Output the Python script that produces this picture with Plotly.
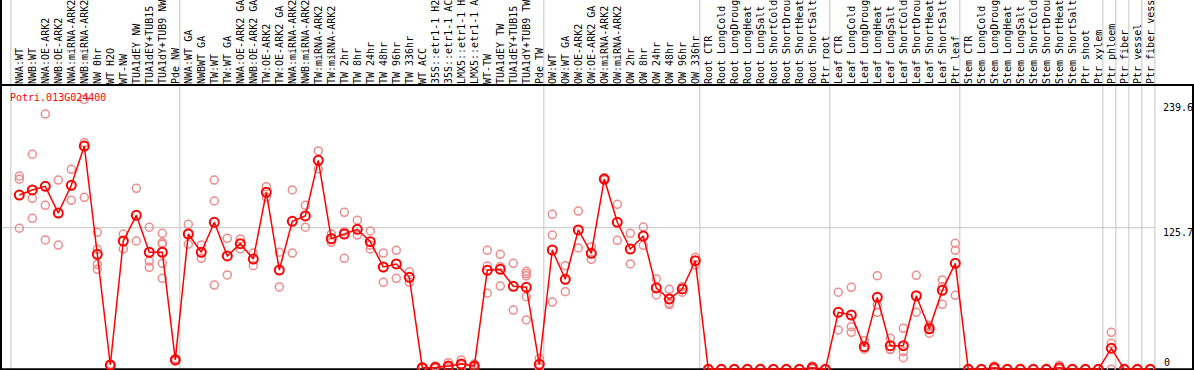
import plotly.graph_objects as go

categories = [
    "NWA:WT", "NWB:WT", "NWA:OE-ARK2", "NWB:OE-ARK2", "NWA:miRNA-ARK2", "NWB:miRNA-ARK2",
    "NW 0hr", "WT H2O", "WT-NW", "TUA1dEY NW", "TUA1dEY+TUB15 NW", "TUA1dY+TUB9 NW", "Pde NW",
    "NWA:WT GA", "NWBWT GA", "TW:WT", "TW:WT GA", "NWA:OE-ARK2 GA", "NWB:OE-ARK2 GA",
    "TW:OE-ARK2", "TW:OE-ARK2 GA", "NWA:miRNA-ARK2", "NWB:miRNA-ARK2", "TW:miRNA-ARK2",
    "TW:miRNA-ARK2 GA", "TW 2hr", "TW 8hr", "TW 24hr", "TW 48hr", "TW 96hr", "TW 336hr",
    "WT ACC", "35S::etr1-1 H2O", "35S::etr1-1 ACC", "LMX5::etr1-1 H2O", "LMX5::etr1-1 ACC",
    "WT-TW", "TUA1dEY TW", "TUA1dEY+TUB15 TW", "TUA1dY+TUB9 TW", "Pde TW",
    "OW:WT", "OW:WT GA", "OW:OE-ARK2", "OW:OE-ARK2 GA", "OW:miRNA-ARK2", "OW:miRNA-ARK2 GA",
    "OW 2hr", "OW 8hr", "OW 24hr", "OW 48hr", "OW 96hr", "OW 336hr",
    "Root CTR", "Root LongCold", "Root LongDrought", "Root LongHeat", "Root LongSalt",
    "Root ShortCold", "Root ShortDrought", "Root ShortHeat", "Root ShortSalt", "Ptr root",
    "Leaf CTR", "Leaf LongCold", "Leaf LongDrought", "Leaf LongHeat", "Leaf LongSalt",
    "Leaf ShortCold", "Leaf ShortDrought", "Leaf ShortHeat", "Leaf ShortSalt", "Ptr leaf",
    "Stem CTR", "Stem LongCold", "Stem LongDrought", "Stem LongHeat", "Stem LongSalt",
    "Stem ShortCold", "Stem ShortDrought", "Stem ShortHeat", "Stem ShortSalt", "Ptr shoot",
    "Ptr xylem", "Ptr phloem", "Ptr fiber", "Ptr vessel", "Ptr fiber vessel",
]

mean_values = [
    154.7, 159.2, 162.4, 138.7, 163.3, 198.2, 102.1, 3.8, 113.9, 136.7, 103.9, 103.9, 8.3,
    120.1, 103.9, 130.5, 100.6, 111.5, 97.9, 157.1, 88.1, 131.4, 136.1, 185.5, 115.9,
    120.1, 124.3, 113.3, 90.8, 93.5, 81.7,
    1.4, 1.7, 2.9, 4.7, 2.9, 87.9, 88.8, 73.7, 72.8, 4.4,
    105.9, 79.9, 123.7, 103.0, 168.9, 130.5, 106.8, 118.3, 72.2, 62.4, 71.3, 96.4,
    0, 0, 0, 0, 0, 0, 0, 0, 1.4, 0,
    50.6, 48.2, 20.1, 63.9, 21.0, 21.0, 65.3, 36.0, 70.1, 94.1,
    0, 0, 1.4, 0, 0, 0, 0, 1.4, 0, 0,
    0, 18.6, 0, 0, 0,
]

replicate_values = [
    [171.6, 168.7, 125.2], [190.9, 151.8, 134.0], [226.6, 145.6, 114.8], [168.0, 110.3],
    [177.5, 150.0], [239.6, 201.2, 152.7], [121.6, 106.5, 93.2, 88.8], [4.5, 3.5, 3.4],
    [120.1, 106.8], [160.7, 113.9], [126.1, 96.1, 90.5], [120.7, 112.4, 111.0, 94.1, 80.8],
    [9.5, 8.0, 7.5],
    [128.7, 111.0], [110.3, 98.5], [168.0, 149.4, 74.8], [116.3, 83.8], [115.7, 106.8],
    [103.2, 92.0], [162.1, 152.7], [103.9, 73.1], [159.2, 103.2], [145.6, 126.1],
    [193.8, 177.8], [120.1, 112.7], [139.4, 122.2, 98.5], [132.3, 119.2],
    [122.8, 110.3, 106.8], [103.2, 77.2], [105.6, 80.8], [86.6, 77.2],
    [2.0, 1.0, 1.2], [3.0, 1.0, 1.1], [5.9, 1.5, 1.3], [8.3, 4.0, 1.8], [4.7, 2.5, 1.5],
    [105.6, 91.7, 67.5], [102.1, 91.1, 73.9], [94.1, 52.6], [87.0, 85.0, 83.0, 64.4, 43.8],
    [9.8, 2.0, 1.4],
    [137.6, 119.2, 59.7], [92.0, 68.9], [140.5, 107.7], [108.8, 97.6], [170.0, 168.0],
    [146.5, 114.5], [120.7, 93.5], [126.3, 110.1], [80.2, 66.0], [71.0, 58.6, 57.5],
    [73.3, 68.4], [99.4, 92.6],
    [0, 0, 0], [0, 0, 0], [0, 0, 0], [0, 0, 0], [0, 0, 0], [0, 0, 0], [0, 0, 0], [0, 0, 0],
    [3.0, 0.8, 0.4], [0, 0, 0],
    [68.4, 34.9], [72.8, 37.8, 32.8], [25.4, 17.8], [83.1, 57.1, 50.6], [27.5, 17.8, 17.5],
    [36.4, 15.6, 10.3], [83.4, 50.6], [39.0, 37.8, 32.0], [79.3, 73.3, 57.7],
    [111.9, 105.6, 65.7],
    [0, 0, 0], [0, 0, 0], [2.9, 0.8, 0.5], [0, 0, 0], [0, 0, 0], [0, 0, 0], [0, 0, 0],
    [3.5, 0.5, 0.3], [0, 0, 0], [0, 0, 0],
    [0, 0, 0], [32.8, 23.1, 0.0], [0, 0, 0], [0, 0, 0], [0, 0, 0],
]

group_boundaries = [0, 13, 41, 53, 63, 73, 84, 85, 86, 87, 88]
y_tick_values = [239.6, 125.7, 0]
y_tick_labels = ["239.6", "125.7", "0"]
gene_name = "Potri.013G024400"

W, H = 1194, 370
ML, MR, MT, MB = 1, 2, 85, 0
PW, PH = W - ML - MR, H - MT - MB
FONT = "DejaVu Sans Mono"


def xp(px):
    return (px - ML) / PW


def yp(py):
    return (H - MB - py) / PH


x_idx = list(range(1, len(categories) + 1))
rep_x, rep_y = [], []
for i, reps in zip(x_idx, replicate_values):
    for v in reps:
        rep_x.append(i)
        rep_y.append(v)

fig = go.Figure()
fig.add_trace(go.Scatter(
    x=rep_x, y=rep_y, mode="markers", cliponaxis=False, hoverinfo="skip",
    marker=dict(symbol="circle-open", size=8, color="rgb(238,140,140)", line=dict(width=1.5)),
))
fig.add_trace(go.Scatter(
    x=x_idx, y=mean_values, mode="lines+markers", cliponaxis=False,
    line=dict(color="red", width=1.5),
    marker=dict(symbol="circle-open", size=9, color="red", line=dict(width=2)),
))

pitch = 13.0
x0_px = 19.3
x_lo = 1 + (ML - x0_px) / pitch
x_hi = 1 + (W - MR - x0_px) / pitch
ppu = 1.1265
y_zero_px = 369.3
y_lo = (y_zero_px - (H - MB)) / ppu
y_hi = (y_zero_px - MT) / ppu

shapes = []
for k in group_boundaries:
    shapes.append(dict(type="line", xref="x", yref="paper", x0=k + 0.35, x1=k + 0.35,
                       y0=0, y1=yp(0), line=dict(color="#c4c4c4", width=1), layer="below"))
shapes.append(dict(type="line", xref="x", yref="y", x0=x_lo, x1=group_boundaries[-1] + 0.35,
                   y0=y_tick_values[1], y1=y_tick_values[1],
                   line=dict(color="#c4c4c4", width=1), layer="below"))
# frame
shapes.append(dict(type="line", xref="paper", yref="paper", x0=xp(1), x1=xp(1), y0=yp(H), y1=yp(0),
                   line=dict(color="black", width=2)))
shapes.append(dict(type="line", xref="paper", yref="paper", x0=xp(W - 1), x1=xp(W - 1), y0=yp(H), y1=yp(MT),
                   line=dict(color="black", width=2)))
shapes.append(dict(type="line", xref="paper", yref="paper", x0=xp(0), x1=xp(W), y0=yp(MT), y1=yp(MT),
                   line=dict(color="black", width=2)))
shapes.append(dict(type="line", xref="paper", yref="y", x0=xp(0), x1=xp(W), y0=0, y1=0,
                   line=dict(color="black", width=2), layer="below"))

annotations = [dict(text=gene_name, xref="paper", yref="paper", x=xp(8), y=yp(97.5),
                    xanchor="left", yanchor="middle", showarrow=False,
                    font=dict(family=FONT, size=10, color="red"))]
label_centers_px = [107, 232.5, 362]
label_left_px = [1161, 1161, 1162]
for lab, cy, lx in zip(y_tick_labels, label_centers_px, label_left_px):
    annotations.append(dict(text=lab, xref="paper", yref="paper", x=xp(lx), y=yp(cy),
                            xanchor="left", yanchor="middle", showarrow=False,
                            font=dict(family=FONT, size=10, color="black")))

fig.update_layout(
    width=W, height=H, margin=dict(l=ML, r=MR, t=MT, b=MB, pad=0),
    paper_bgcolor="white", plot_bgcolor="white", showlegend=False,
    shapes=shapes, annotations=annotations,
    xaxis=dict(range=[x_lo, x_hi], side="top", tickmode="array", tickvals=x_idx,
               ticktext=categories, tickangle=-90, ticks="", showgrid=False, zeroline=False,
               showline=False, tickfont=dict(family=FONT, size=10, color="black"),
               automargin=False),
    yaxis=dict(range=[y_lo, y_hi], showgrid=False, zeroline=False, showticklabels=False,
               ticks="", showline=False, automargin=False),
)

fig.write_html(
    "out.html",
    config={"displayModeBar": False},
    post_script="document.body.style.margin='0px';document.body.style.padding='0px';",
)
